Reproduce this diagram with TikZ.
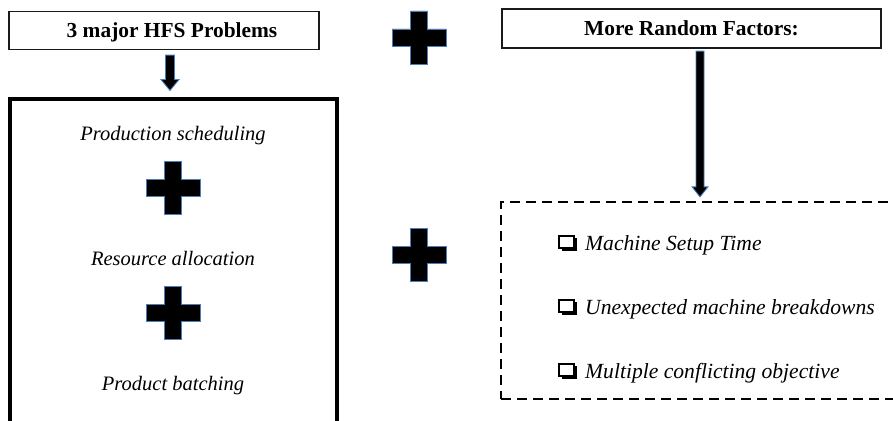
\documentclass[tikz,border=0pt]{standalone}
\usepackage{fontspec}
\setmainfont{Liberation Serif}
\usetikzlibrary{calc}
\definecolor{rimblue}{HTML}{4A7EBB}
\definecolor{inkgray}{HTML}{1A1A1A}
\tikzset{
  titlebox/.style={draw=inkgray, line width=1.2pt, inner sep=0pt,
    text height=13.5pt, text depth=0pt,
    font=\fontsize{21.4pt}{25pt}\selectfont\bfseries},
  bigframe/.style={draw=black, line width=4pt, inner sep=0pt},
  dashframe/.style={draw=black, line width=1.3pt, dash pattern=on 10pt off 6pt, inner sep=0pt},
  steptext/.style={anchor=base, inner sep=0pt, font=\fontsize{20.5pt}{24pt}\selectfont\itshape},
  itemtext/.style={anchor=base west, inner sep=0pt, font=\fontsize{21.6pt}{25pt}\selectfont\itshape},
  arrowbody/.style={fill=black, draw=rimblue, line width=0.9pt, line join=miter},
  crossmark/.pic={
    \filldraw[fill=black, draw=rimblue, line width=0.8pt]
      (-27,-8.5) -- (-8.5,-8.5) -- (-8.5,-26.5) -- (8.5,-26.5) -- (8.5,-8.5) -- (27,-8.5)
      -- (27,8.5) -- (8.5,8.5) -- (8.5,26.5) -- (-8.5,26.5) -- (-8.5,8.5) -- (-27,8.5) -- cycle;
  }
}
% block arrow: #1 start, #2 tip, #3 half shaft width, #4 half head width, #5 head length
\newcommand\blockarrow[5]{%
  \filldraw[arrowbody] ($(#1)+(-#3,0)$) -- ($(#2)+(-#3,-#5)$) -- ($(#2)+(-#4,-#5)$)
    -- (#2) -- ($(#2)+(#4,-#5)$) -- ($(#2)+(#3,-#5)$) -- ($(#1)+(#3,0)$) -- cycle;}
% shadowed check box placed left of a list entry
\newcommand\tickbox[1]{%
  \fill[black] ($(#1.base west)+(-23.5,-12)$) rectangle ($(#1.base west)+(-8.5,0.5)$);
  \filldraw[fill=white, draw=black, line width=1.3pt]
    ($(#1.base west)+(-26,-14)$) rectangle ($(#1.base west)+(-11,-2)$);}
\begin{document}
\begin{tikzpicture}[x=1pt,y=-1pt]
\useasboundingbox (0,0) rectangle (893,420);
\clip (0,0) rectangle (893,420);

% headings
\node[titlebox, minimum width=310pt, minimum height=38pt] (lefttitle) at (164,30.5) {\hspace*{16pt}3 major HFS Problems};
\node[titlebox, minimum width=379pt, minimum height=39pt] (righttitle) at (691.5,28.5) {More Random Factors:};

% left frame with the three problems
\node[bigframe, minimum width=326.5pt, minimum height=341.5pt] (frame) at (173.25,269.25) {};
\node[steptext] (prod) at (173,140) {Production scheduling};
\node[steptext] (res) at (173,265) {Resource allocation};
\node[steptext] (batch) at (173,390) {Product batching};
\pic at (173,187.5) {crossmark};
\pic at (173,313) {crossmark};

% plus signs between the columns
\pic at (419,37.5) {crossmark};
\pic at (419,255) {crossmark};

% dashed frame with random factors
\node[dashframe, minimum width=399pt, minimum height=197pt] (factors) at (700.5,300.5) {};
\node[itemtext] (f1) at (585,250) {Machine Setup Time};
\node[itemtext] (f2) at (585,314) {Unexpected machine breakdowns};
\node[itemtext] (f3) at (585,378) {Multiple conflicting objective};
\tickbox{f1}
\tickbox{f2}
\tickbox{f3}

% arrows
\coordinate (a1top) at ($(lefttitle.south)+(6,5)$);
\coordinate (a1tip) at ($(frame.north -| a1top)+(0,-6)$);
\blockarrow{a1top}{a1tip}{4.5}{9}{11}
\coordinate (a2top) at ($(righttitle.south)+(8.5,2.5)$);
\coordinate (a2tip) at ($(factors.north -| a2top)+(0,-4.5)$);
\blockarrow{a2top}{a2tip}{4}{8}{10}
\end{tikzpicture}
\end{document}
